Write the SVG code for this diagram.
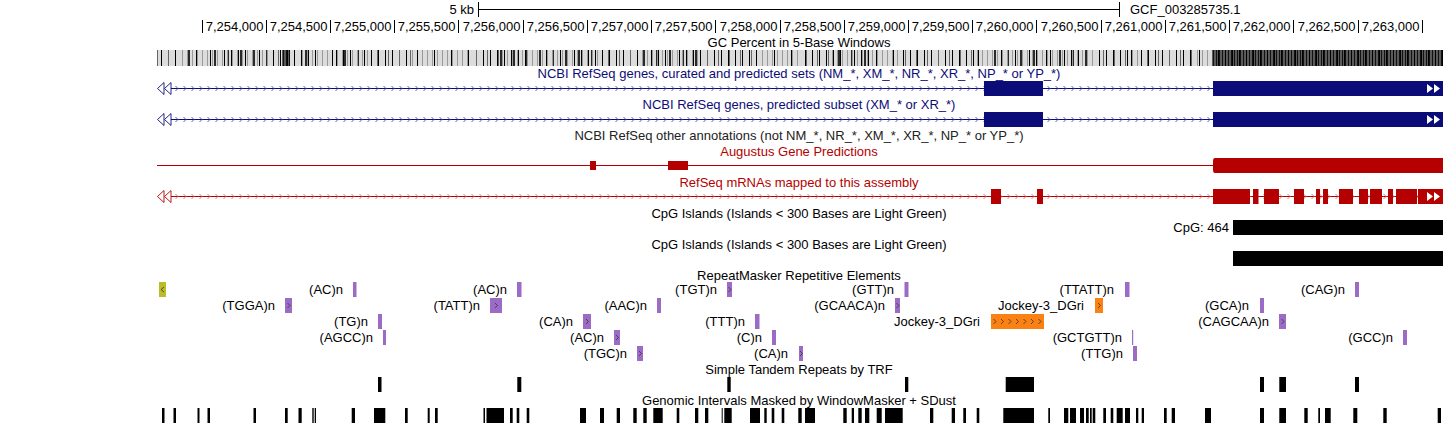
<svg xmlns="http://www.w3.org/2000/svg" width="1443" height="424" viewBox="0 0 1443 424">
<style>
text{font-family:"Liberation Sans",Arial,sans-serif;font-size:13px;fill:#000}
.c{text-anchor:middle}
.e{text-anchor:end}
.bt{fill:#0c0c78}
.rt{fill:#b40000}
.gt{fill:#222}
.tick{stroke:#000;stroke-width:1}
.bl{fill:#0c0c78}
.rd{fill:#b40000}
.rep{fill:#9b6bc6}
.jk{fill:#fb8212}
.ol{fill:#bcbc28}
.chv{fill:none;stroke:#333;stroke-width:0.8}
.wa{fill:#fff}
</style>
<defs>
<pattern id="pA" patternUnits="userSpaceOnUse" x="0" y="50" width="7" height="16"><rect width="1" height="16" fill="#000"/></pattern>
<pattern id="pB" patternUnits="userSpaceOnUse" x="0" y="50" width="13" height="16"><rect x="6" width="2" height="16" fill="#2a2a2a"/></pattern>
<pattern id="pC" patternUnits="userSpaceOnUse" x="0" y="50" width="5" height="16"><rect x="2" width="1" height="16" fill="#9a9a9a"/></pattern>
<pattern id="pE" patternUnits="userSpaceOnUse" x="0" y="50" width="3" height="16"><rect x="1" width="1" height="16" fill="#111"/></pattern>
<pattern id="pF" patternUnits="userSpaceOnUse" x="0" y="50" width="17" height="16"><rect x="9" width="1" height="16" fill="#000"/></pattern>
<pattern id="pG" patternUnits="userSpaceOnUse" x="0" y="50" width="11" height="16"><rect x="3" width="1" height="16" fill="#666"/></pattern>
<pattern id="chB1" patternUnits="userSpaceOnUse" x="175" y="84" width="8" height="9"><path d="M0.5 2L3 4.5L0.5 7" fill="none" stroke="#4a4aa8" stroke-width="0.9"/></pattern>
<pattern id="chB2" patternUnits="userSpaceOnUse" x="175" y="115" width="8" height="9"><path d="M0.5 2L3 4.5L0.5 7" fill="none" stroke="#4a4aa8" stroke-width="0.9"/></pattern>
<pattern id="chR" patternUnits="userSpaceOnUse" x="175" y="192" width="8" height="9"><path d="M0.5 2L3 4.5L0.5 7" fill="none" stroke="#e06a6a" stroke-width="0.9"/></pattern>
<path id="gL" d="M200 50h4v16h-4zM318 50h18v16h-18zM412 50h60v16h-60zM760 50h40v16h-40zM870 50h30v16h-30zM975 50h10v16h-10zM1040 50h10v16h-10zM1130 50h10v16h-10zM1195 50h17v16h-17z"/>
<path id="gM" d="M157 50h21v16h-21zM270 50h12v16h-12zM290 50h10v16h-10zM370 50h42v16h-42zM472 50h28v16h-28zM600 50h40v16h-40zM700 50h60v16h-60zM800 50h30v16h-30zM900 50h75v16h-75zM1095 50h35v16h-35zM1140 50h55v16h-55z"/>
<path id="gD" d="M178 50h22v16h-22zM204 50h66v16h-66zM300 50h18v16h-18zM336 50h34v16h-34zM500 50h100v16h-100zM640 50h60v16h-60zM830 50h40v16h-40zM985 50h55v16h-55zM1050 50h45v16h-45z"/>
<path id="gX" d="M282 50h8v16h-8zM1212 50h231v16h-231z"/>
</defs>
<rect width="1443" height="424" fill="#fff"/>

<g id="ruler">
<text class="e" x="474" y="14">5 kb</text>
<line class="tick" x1="478.5" y1="2" x2="478.5" y2="17"/>
<line class="tick" x1="478" y1="9.5" x2="1120" y2="9.5"/>
<line class="tick" x1="1119.5" y1="2" x2="1119.5" y2="17"/>
<text x="1130" y="14">GCF_003285735.1</text>
<path class="tick" d="M202.5 20V33M266.5 20V33M330.5 20V33M394.5 20V33M458.5 20V33M523.5 20V33M587.5 20V33M651.5 20V33M715.5 20V33M780.5 20V33M844.5 20V33M908.5 20V33M972.5 20V33M1036.5 20V33M1101.5 20V33M1165.5 20V33M1229.5 20V33M1293.5 20V33M1358.5 20V33M1422.5 20V33"/>
<text class="e" x="263.5" y="31">7,254,000</text>
<text class="e" x="327.5" y="31">7,254,500</text>
<text class="e" x="391.5" y="31">7,255,000</text>
<text class="e" x="455.5" y="31">7,255,500</text>
<text class="e" x="520.5" y="31">7,256,000</text>
<text class="e" x="584.5" y="31">7,256,500</text>
<text class="e" x="648.5" y="31">7,257,000</text>
<text class="e" x="712.5" y="31">7,257,500</text>
<text class="e" x="777.5" y="31">7,258,000</text>
<text class="e" x="841.5" y="31">7,258,500</text>
<text class="e" x="905.5" y="31">7,259,000</text>
<text class="e" x="969.5" y="31">7,259,500</text>
<text class="e" x="1033.5" y="31">7,260,000</text>
<text class="e" x="1098.5" y="31">7,260,500</text>
<text class="e" x="1162.5" y="31">7,261,000</text>
<text class="e" x="1226.5" y="31">7,261,500</text>
<text class="e" x="1290.5" y="31">7,262,000</text>
<text class="e" x="1355.5" y="31">7,262,500</text>
<text class="e" x="1419.5" y="31">7,263,000</text>
</g>

<g id="gc-percent">
<text class="c" x="799" y="47">GC Percent in 5-Base Windows</text>
<rect x="157" y="50" width="1286" height="16" fill="#dcdcdc"/>
<use href="#gL" fill="url(#pC)"/>
<use href="#gL" fill="url(#pF)"/>
<use href="#gM" fill="url(#pA)"/>
<use href="#gM" fill="url(#pG)"/>
<use href="#gD" fill="url(#pA)"/>
<use href="#gD" fill="url(#pB)"/>
<use href="#gD" fill="url(#pC)"/>
<use href="#gX" fill="#5a5a5a"/>
<use href="#gX" fill="url(#pE)"/>
<use href="#gX" fill="url(#pA)"/>
</g>

<g id="refseq-curated">
<text class="c bt" x="799" y="78">NCBI RefSeq genes, curated and predicted sets (NM_*, XM_*, NR_*, XR_*, NP_* or YP_*)</text>
<rect x="171" y="88" width="1272" height="1" class="bl"/>
<rect x="172" y="84" width="1271" height="9" fill="url(#chB1)"/>
<polygon points="164,82.5 157.5,88.5 164,94.5" fill="#fff" stroke="#0c0c78" stroke-width="0.9"/>
<polygon points="171,82.5 164.5,88.5 171,94.5" fill="#fff" stroke="#0c0c78" stroke-width="0.9"/>
<rect x="984" y="81" width="59" height="15" class="bl"/>
<rect x="1213" y="81" width="230" height="15" class="bl"/>
<polygon class="wa" points="1427,84 1433,88.5 1427,93"/>
<polygon class="wa" points="1434,84 1440,88.5 1434,93"/>
</g>

<g id="refseq-predicted">
<text class="c bt" x="799" y="109">NCBI RefSeq genes, predicted subset (XM_* or XR_*)</text>
<rect x="171" y="119" width="1272" height="1" class="bl"/>
<rect x="172" y="115" width="1271" height="9" fill="url(#chB2)"/>
<polygon points="164,113.5 157.5,119.5 164,125.5" fill="#fff" stroke="#0c0c78" stroke-width="0.9"/>
<polygon points="171,113.5 164.5,119.5 171,125.5" fill="#fff" stroke="#0c0c78" stroke-width="0.9"/>
<rect x="984" y="112" width="59" height="15" class="bl"/>
<rect x="1213" y="112" width="230" height="15" class="bl"/>
<polygon class="wa" points="1427,115 1433,119.5 1427,124"/>
<polygon class="wa" points="1434,115 1440,119.5 1434,124"/>
</g>

<g id="refseq-other">
<text class="c gt" x="799" y="140">NCBI RefSeq other annotations (not NM_*, NR_*, XM_*, XR_*, NP_* or YP_*)</text>
</g>

<g id="augustus">
<text class="c rt" x="799" y="156">Augustus Gene Predictions</text>
<rect x="157" y="165" width="1058" height="1" class="rd"/>
<rect x="590" y="161" width="6" height="9" class="rd"/>
<rect x="668" y="161" width="20" height="9" class="rd"/>
<path class="rd" d="M1215 158H1443V173H1215Q1213 173 1213 170V161Q1213 158 1215 158Z"/>
</g>

<g id="refseq-mrna">
<text class="c rt" x="799" y="187">RefSeq mRNAs mapped to this assembly</text>
<rect x="171" y="196" width="1272" height="1" class="rd"/>
<rect x="172" y="192" width="1271" height="9" fill="url(#chR)"/>
<polygon points="164,190.5 157.5,196.5 164,202.5" fill="#fff" stroke="#b40000" stroke-width="0.9"/>
<polygon points="171,190.5 164.5,196.5 171,202.5" fill="#fff" stroke="#b40000" stroke-width="0.9"/>
<path class="rd" d="M991 189H1001V204H991ZM1037 189H1043V204H1037ZM1213 189H1250V204H1213ZM1253 189H1258.5V204H1253ZM1264 189H1279V204H1264ZM1294 189H1304V204H1294ZM1316 189H1320V204H1316ZM1323 189H1328V204H1323ZM1339 189H1353V204H1339ZM1359 189H1368V204H1359ZM1370 189H1382V204H1370ZM1388 189H1393V204H1388ZM1396 189H1417V204H1396ZM1418 189H1443V204H1418Z"/>
<polygon class="wa" points="1427,192 1433,196.5 1427,201"/>
<polygon class="wa" points="1434,192 1440,196.5 1434,201"/>
</g>

<g id="cpg-islands-1">
<text class="c" x="799" y="218">CpG Islands (Islands &lt; 300 Bases are Light Green)</text>
<text class="e" x="1229" y="232">CpG: 464</text>
<rect x="1233" y="220" width="210" height="15" fill="#000"/>
</g>

<g id="cpg-islands-2">
<text class="c" x="799" y="249">CpG Islands (Islands &lt; 300 Bases are Light Green)</text>
<rect x="1233" y="251" width="210" height="15" fill="#000"/>
</g>

<g id="repeatmasker">
<text class="c" x="799" y="280">RepeatMasker Repetitive Elements</text>
<rect class="ol" x="159" y="282" width="7" height="15"/>
<path class="chv" d="M164 287L161 289.5L164 292"/>
<text class="e" x="343" y="294">(AC)n</text><rect class="rep" x="353" y="282" width="3.5" height="15"/>
<text class="e" x="507" y="294">(AC)n</text><rect class="rep" x="517" y="282" width="4.5" height="15"/>
<text class="e" x="717" y="294">(TGT)n</text><rect class="rep" x="727" y="282" width="5" height="15"/>
<text class="e" x="894" y="294">(GTT)n</text><rect class="rep" x="904.5" y="282" width="4" height="15"/>
<text class="e" x="1114" y="294">(TTATT)n</text><rect class="rep" x="1125" y="282" width="4.5" height="15"/>
<text class="e" x="1345" y="294">(CAG)n</text><rect class="rep" x="1355" y="282" width="4" height="15"/>

<text class="e" x="275" y="310">(TGGA)n</text><rect class="rep" x="285" y="298" width="7" height="15"/>
<text class="e" x="480" y="310">(TATT)n</text><rect class="rep" x="490" y="298" width="12" height="15"/>
<text class="e" x="647" y="310">(AAC)n</text><rect class="rep" x="657" y="298" width="4" height="15"/>
<text class="e" x="885" y="310">(GCAACA)n</text><rect class="rep" x="895" y="298" width="5" height="15"/>
<text class="e" x="1084" y="310">Jockey-3_DGri</text><rect class="jk" x="1095" y="298" width="8" height="15"/>
<text class="e" x="1249" y="310">(GCA)n</text><rect class="rep" x="1260" y="298" width="4" height="15"/>

<text class="e" x="368" y="326">(TG)n</text><rect class="rep" x="378" y="314" width="4" height="15"/>
<text class="e" x="573" y="326">(CA)n</text><rect class="rep" x="583" y="314" width="8" height="15"/>
<text class="e" x="745" y="326">(TTT)n</text><rect class="rep" x="755" y="314" width="4.5" height="15"/>
<text class="e" x="980" y="326">Jockey-3_DGri</text><rect class="jk" x="991" y="314" width="53" height="15"/>
<text class="e" x="1269" y="326">(CAGCAA)n</text><rect class="rep" x="1279" y="314" width="7" height="15"/>

<text class="e" x="373" y="342">(AGCC)n</text><rect class="rep" x="383" y="330" width="3" height="15"/>
<text class="e" x="604" y="342">(AC)n</text><rect class="rep" x="614" y="330" width="6" height="15"/>
<text class="e" x="762" y="342">(C)n</text><rect class="rep" x="772" y="330" width="4" height="15"/>
<text class="e" x="1122" y="342">(GCTGTT)n</text><rect class="rep" x="1132" y="330" width="1.2" height="15"/>
<text class="e" x="1393" y="342">(GCC)n</text><rect class="rep" x="1403" y="330" width="4" height="15"/>

<text class="e" x="627" y="358">(TGC)n</text><rect class="rep" x="637" y="346" width="6" height="15"/>
<text class="e" x="788" y="358">(CA)n</text><rect class="rep" x="799" y="346" width="4" height="15"/>
<text class="e" x="1123" y="358">(TTG)n</text><rect class="rep" x="1133" y="346" width="4" height="15"/>

<path class="chv" d="M287.5 303L290 305.5L287.5 308M495 303L497.5 305.5L495 308M896.5 303L899 305.5L896.5 308M1098 303L1100.5 305.5L1098 308M586 319L588.5 321.5L586 324M1281.5 319L1284 321.5L1281.5 324M616 335L618.5 337.5L616 340M639 351L641.5 353.5L639 356M800 351L802.5 353.5L800 356M728.5 287L731 289.5L728.5 292"/>
<path class="chv" d="M993.5 319L996 321.5L993.5 324M1001 319L1003.5 321.5L1001 324M1008.5 319L1011 321.5L1008.5 324M1016 319L1018.5 321.5L1016 324M1023.5 319L1026 321.5L1023.5 324M1031 319L1033.5 321.5L1031 324M1038.5 319L1041 321.5L1038.5 324"/>
</g>

<g id="simple-tandem-repeats">
<text class="c" x="799" y="374">Simple Tandem Repeats by TRF</text>
<path fill="#000" d="M378 377H381.5V392H378ZM517.3 377H521.3V392H517.3ZM727.3 377H730.7V392H727.3ZM905 377H908.3V392H905ZM1005.7 377H1034V392H1005.7ZM1260 377H1264V392H1260ZM1279.3 377H1286V392H1279.3ZM1355 377H1359V392H1355Z"/>
</g>

<g id="windowmasker">
<text class="c" x="799" y="405">Genomic Intervals Masked by WindowMasker + SDust</text>
<path fill="#000" d="M162 408H164.5V423H162ZM173.5 408H176V423H173.5ZM197.5 408H199.5V423H197.5ZM207.5 408H210V423H207.5ZM253.5 408H256V423H253.5ZM285 408H287.7V423H285ZM298.5 408H301.7V423H298.5ZM312.3 408H313.7V423H312.3ZM314.7 408H316V423H314.7ZM351.7 408H355V423H351.7ZM374 408H385.3V423H374ZM405 408H407.7V423H405ZM427.7 408H429.7V423H427.7ZM435 408H437.7V423H435ZM483.5 408H485V423H483.5ZM486.5 408H504V423H486.5ZM510 408H512.7V423H510ZM516.7 408H519.3V423H516.7ZM526.7 408H529.3V423H526.7ZM580 408H586V423H580ZM600 408H604V423H600ZM616.7 408H620V423H616.7ZM633.3 408H636.7V423H633.3ZM643.3 408H646.7V423H643.3ZM653.3 408H662.7V423H653.3ZM676.7 408H679.3V423H676.7ZM695 408H698.3V423H695ZM705 408H708.3V423H705ZM721.7 408H722.7V423H721.7ZM724.3 408H731.7V423H724.3ZM750 408H760V423H750ZM764.3 408H766.7V423H764.3ZM771.7 408H774.3V423H771.7ZM781.7 408H784.3V423H781.7ZM798.3 408H801.7V423H798.3ZM805 408H815V423H805ZM843.3 408H846.7V423H843.3ZM851.7 408H854V423H851.7ZM858.3 408H861.7V423H858.3ZM865 408H869.3V423H865ZM876.7 408H881.7V423H876.7ZM885 408H902.7V423H885ZM930 408H933.3V423H930ZM951.7 408H955V423H951.7ZM963.3 408H966V423H963.3ZM976.7 408H979.3V423H976.7ZM1003.3 408H1034V423H1003.3ZM1048.3 408H1050V423H1048.3ZM1064 408H1068.3V423H1064ZM1070 408H1076V423H1070ZM1080 408H1084V423H1080ZM1086 408H1088.7V423H1086ZM1090 408H1091.7V423H1090ZM1092.7 408H1095.3V423H1092.7ZM1103.3 408H1106V423H1103.3ZM1110.7 408H1113.3V423H1110.7ZM1116.7 408H1122.7V423H1116.7ZM1125 408H1130V423H1125ZM1136 408H1138.3V423H1136ZM1141.7 408H1144V423H1141.7ZM1164 408H1166.7V423H1164ZM1171.7 408H1175V423H1171.7ZM1205 408H1211V423H1205ZM1260 408H1264V423H1260ZM1279.3 408H1286V423H1279.3ZM1304.3 408H1307.7V423H1304.3ZM1318.3 408H1320V423H1318.3ZM1325 408H1330.7V423H1325ZM1353.3 408H1357.3V423H1353.3ZM1383.3 408H1386.7V423H1383.3ZM1437.7 408H1441V423H1437.7Z"/>
</g>
</svg>
